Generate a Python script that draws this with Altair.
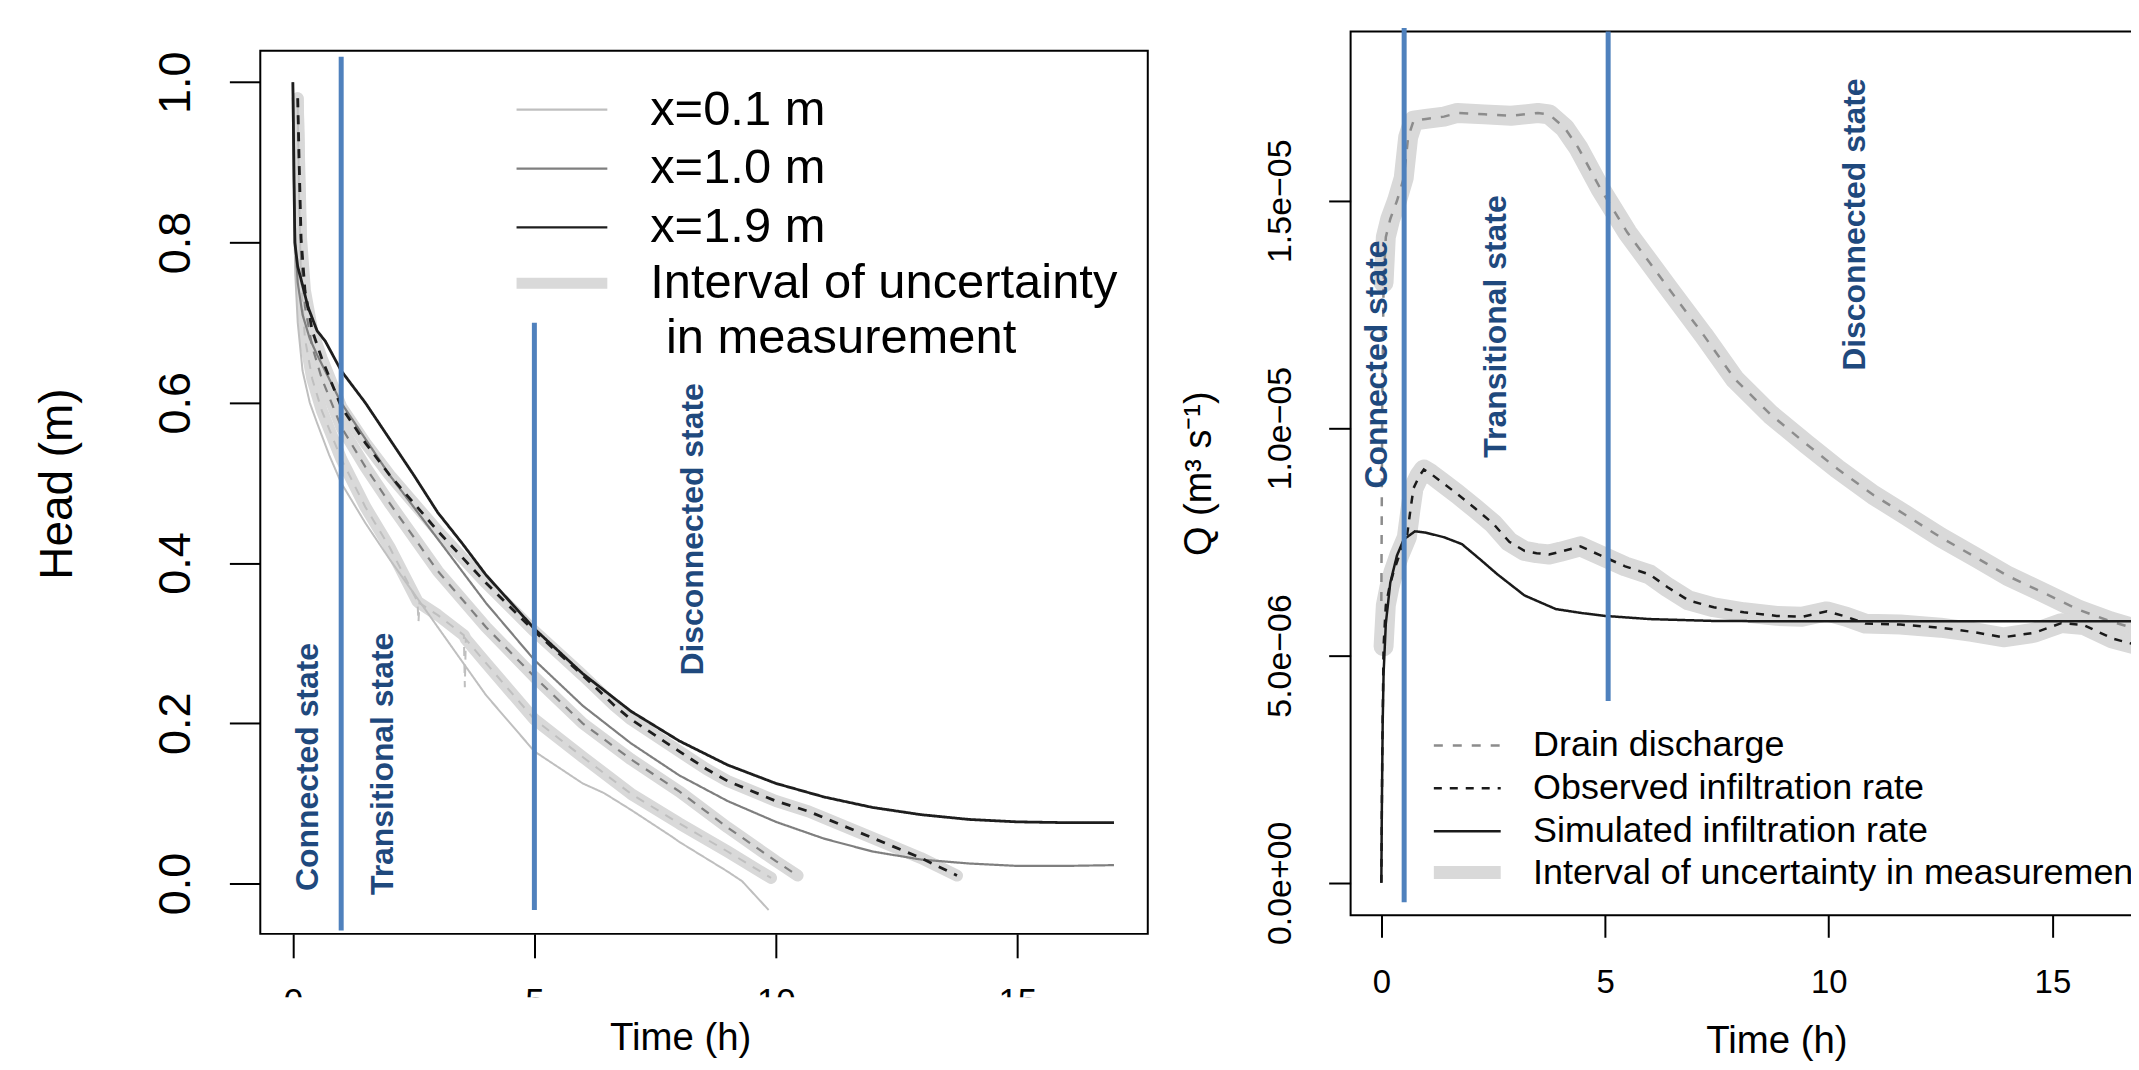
import altair as alt
import pandas as pd

FONT = "Liberation Sans"
BLUE = "#4F81BD"
LABEL_BLUE = "#1F497D"
BAND_GREY = "#D9D9D9"

# ---------------- Left panel: hydraulic head ----------------
probe_names = ["x=0.1 m", "x=1.0 m", "x=1.9 m"]
probe_colors = ["#BFBFBF", "#7F7F7F", "#1E1E1E"]
probe_line_widths = [2.0, 2.2, 2.8]
left_band_name = "Interval of uncertainty"
left_band_second_line = "in measurement"

sim01_t = [0, 0.02, 0.05, 0.1, 0.2, 0.35, 0.5, 0.75, 1, 1.5, 2, 3, 4, 5, 6, 6.44, 7, 7.86, 8, 9, 9.3, 9.85]
sim01_h = [1.0, 0.85, 0.76, 0.7, 0.64, 0.6, 0.575, 0.535, 0.5, 0.45, 0.405, 0.32, 0.235, 0.165, 0.125, 0.113, 0.092, 0.058, 0.052, 0.015, 0.003, -0.033]
sim10_t = [0, 0.02, 0.05, 0.1, 0.2, 0.35, 0.5, 0.75, 1, 1.5, 2, 3, 4, 5, 6, 7, 8, 9, 10, 11, 12, 13, 14, 15, 16, 17]
sim10_h = [1.0, 0.88, 0.8, 0.75, 0.71, 0.68, 0.66, 0.63, 0.60, 0.555, 0.51, 0.43, 0.35, 0.279, 0.222, 0.175, 0.135, 0.103, 0.077, 0.056, 0.04, 0.03, 0.025, 0.022, 0.022, 0.023]
sim19_t = [0, 0.02, 0.04, 0.1, 0.17, 0.31, 0.5, 0.67, 1.0, 1.5, 2, 2.5, 3, 3.5, 4, 5, 6, 7, 8, 9, 10, 11, 12, 13, 14, 15, 16, 17]
sim19_h = [1.0, 0.9, 0.8, 0.77, 0.754, 0.72, 0.69, 0.677, 0.64, 0.6, 0.555, 0.51, 0.463, 0.425, 0.385, 0.318, 0.262, 0.215, 0.178, 0.148, 0.125, 0.108, 0.095, 0.086, 0.08, 0.077, 0.076, 0.076]

obs01_t = [0.1, 0.13, 0.17, 0.25, 0.4, 0.6, 1, 1.5, 2, 2.58, 2.6, 2.62, 3, 3.54, 3.56, 3.58, 4, 5, 6, 7, 8, 9, 9.9]
obs01_h = [0.97, 0.85, 0.75, 0.68, 0.63, 0.59, 0.53, 0.47, 0.42, 0.352, 0.326, 0.35, 0.335, 0.31, 0.245, 0.305, 0.275, 0.205, 0.158, 0.112, 0.075, 0.04, 0.007]
obs01_spike_t = [2.6, 3.56]   # short sensor spikes, drawn thin, outside the uncertainty band
obs10_t = [0.1, 0.13, 0.17, 0.25, 0.4, 0.6, 1, 1.5, 2, 3, 4, 5, 6, 7, 8, 9, 10, 10.45]
obs10_h = [0.98, 0.88, 0.78, 0.72, 0.67, 0.63, 0.57, 0.52, 0.475, 0.39, 0.32, 0.258, 0.2, 0.155, 0.115, 0.07, 0.028, 0.01]
obs19_t = [0.1, 0.13, 0.17, 0.25, 0.4, 0.6, 1, 1.5, 2, 3, 4, 5, 6, 6.66, 7, 8, 8.56, 9, 10, 10.68, 11, 12, 13, 13.75]
obs19_h = [0.98, 0.9, 0.805, 0.74, 0.69, 0.655, 0.595, 0.55, 0.51, 0.44, 0.375, 0.315, 0.26, 0.222, 0.205, 0.165, 0.143, 0.128, 0.103, 0.09, 0.082, 0.057, 0.032, 0.01]

left_ticks_x = [0, 5, 10, 15]
left_ticks_y = [0.0, 0.2, 0.4, 0.6, 0.8, 1.0]

left_rule_t = [1.0, 5.0]
left_rule_top = [1.032, 0.70]
left_rule_bottom = [-0.0586, -0.033]

left_state_labels = ["Connected state", "Transitional state", "Disconnected state"]
left_state_t = [0.52, 2.08, 8.49]
left_state_v = [-0.0093, -0.0143, 0.2595]

# ---------------- Right panel: discharge ----------------
right_series = ["Drain discharge", "Observed infiltration rate", "Simulated infiltration rate"]
right_colors = ["#8C8C8C", "#1A1A1A", "#1A1A1A"]
right_dashes = [[9, 10], [8, 8], [1, 0]]
right_band_name = "Interval of uncertainty in measurement"

drain_t = [0, 0.02, 0.05, 0.1, 0.2, 0.35, 0.5, 0.6, 0.72, 1.0, 1.4, 1.7, 2.3, 2.9, 3.5, 3.75, 4.1, 4.4, 4.9,
           5.5, 6.4, 7.2, 7.9, 8.7, 9.5, 10.2, 11.0, 11.7, 12.5, 13.3, 14.0, 14.8, 15.6, 16.3, 17.0]
drain_q = [6.2e-6, 10.5e-6, 13.2e-6, 14.2e-6, 14.6e-6, 15.0e-6, 15.5e-6, 16.4e-6, 16.76e-6, 16.8e-6, 16.85e-6,
           16.93e-6, 16.9e-6, 16.87e-6, 16.93e-6, 16.9e-6, 16.6e-6, 16.17e-6, 15.26e-6, 14.3e-6, 13.1e-6,
           12.05e-6, 11.08e-6, 10.3e-6, 9.65e-6, 9.1e-6, 8.53e-6, 8.1e-6, 7.6e-6, 7.15e-6, 6.75e-6, 6.38e-6,
           6.0e-6, 5.75e-6, 5.55e-6]
obsq_t = [0, 0.02, 0.05, 0.1, 0.18, 0.27, 0.4, 0.57, 0.65, 0.72, 0.85, 0.95, 1.1, 1.34, 1.7, 2.1, 2.5, 2.86,
          3.2, 3.47, 3.75, 4.0, 4.45, 4.9, 5.45, 6.0, 6.4, 6.87, 7.43, 8.1, 8.84, 9.4, 9.96, 10.4, 10.82,
          11.6, 12.5, 13.2, 13.9, 14.6, 15.2, 15.7, 16.35, 17.0]
obsq_q = [0, 2.8e-6, 5.2e-6, 6.1e-6, 6.5e-6, 6.83e-6, 7.2e-6, 7.6e-6, 8.2e-6, 8.68e-6, 8.95e-6, 9.09e-6,
          9.0e-6, 8.82e-6, 8.55e-6, 8.23e-6, 7.9e-6, 7.5e-6, 7.3e-6, 7.25e-6, 7.22e-6, 7.28e-6, 7.4e-6,
          7.2e-6, 6.96e-6, 6.78e-6, 6.5e-6, 6.21e-6, 6.06e-6, 5.95e-6, 5.87e-6, 5.85e-6, 5.97e-6, 5.85e-6,
          5.7e-6, 5.68e-6, 5.61e-6, 5.52e-6, 5.4e-6, 5.5e-6, 5.71e-6, 5.67e-6, 5.37e-6, 5.2e-6]
simq_t = [0, 0.01, 0.03, 0.05, 0.1, 0.2, 0.35, 0.5, 0.75, 1.0, 1.4, 1.8, 2.2, 2.6, 3.2, 3.9, 4.5, 5.0, 6.0,
          7.4, 9.0, 11, 13, 15, 17]
simq_q = [0, 1.5e-6, 3.5e-6, 4.6e-6, 5.7e-6, 6.6e-6, 7.2e-6, 7.55e-6, 7.73e-6, 7.7e-6, 7.6e-6, 7.45e-6,
          7.12e-6, 6.78e-6, 6.32e-6, 6.02e-6, 5.93e-6, 5.87e-6, 5.8e-6, 5.76e-6, 5.75e-6, 5.75e-6, 5.75e-6,
          5.75e-6, 5.75e-6]
band_start_t = 0.05

right_ticks_x = [0, 5, 10, 15]
q_tick_values = [0, 5e-6, 1e-5, 1.5e-5]
q_tick_labels = ["0.0e+00", "5.0e\u221206", "1.0e\u221205", "1.5e\u221205"]

right_rule_t = [0.51, 5.07]
right_rule_top = [1.88e-5, 1.8724e-5]
right_rule_bottom = [-0.43e-6, 4.0e-6]

right_state_labels = ["Connected state", "Transitional state", "Disconnected state"]
right_state_t = [0.119, 2.78, 10.81]
right_state_v = [8.67e-6, 9.35e-6, 1.126e-5]

# ---------------- build tables ----------------
left_rows, left_band_rows = [], []
for name, w, st, sh, ot, oh in [
    (probe_names[0], probe_line_widths[0], sim01_t, sim01_h, obs01_t, obs01_h),
    (probe_names[1], probe_line_widths[1], sim10_t, sim10_h, obs10_t, obs10_h),
    (probe_names[2], probe_line_widths[2], sim19_t, sim19_h, obs19_t, obs19_h),
]:
    for a, b in zip(st, sh):
        left_rows.append({"t": a, "v": b, "probe": name, "w": w, "kind": "simulated", "curve": name + " sim"})
    for a, b in zip(ot, oh):
        left_rows.append({"t": a, "v": b, "probe": name, "w": w, "kind": "observed", "curve": name + " obs"})
        if not (name == probe_names[0] and a in obs01_spike_t):
            left_band_rows.append({"t": a, "v": b, "band": left_band_name, "curve": name + " band"})
left_df = pd.DataFrame(left_rows)
left_band_df = pd.DataFrame(left_band_rows)
left_rule_df = pd.DataFrame({"t": left_rule_t, "v": left_rule_top, "v2": left_rule_bottom})
left_text_df = pd.DataFrame({"t": left_state_t, "v": left_state_v, "label": left_state_labels})

right_rows, right_band_rows = [], []
for name, tt, qq in [(right_series[0], drain_t, drain_q), (right_series[1], obsq_t, obsq_q),
                     (right_series[2], simq_t, simq_q)]:
    for a, b in zip(tt, qq):
        right_rows.append({"t": a, "v": b, "series": name})
for name, tt, qq in [(right_series[0], drain_t, drain_q), (right_series[1], obsq_t, obsq_q)]:
    for a, b in zip(tt, qq):
        if a >= band_start_t:
            right_band_rows.append({"t": a, "v": b, "band": right_band_name, "curve": name + " band"})
right_df = pd.DataFrame(right_rows)
right_band_df = pd.DataFrame(right_band_rows)
right_rule_df = pd.DataFrame({"t": right_rule_t, "v": right_rule_top, "v2": right_rule_bottom})
right_text_df = pd.DataFrame({"t": right_state_t, "v": right_state_v, "label": right_state_labels})

# ---------------- left chart ----------------
LW, LH = 890, 885.5
x_left = alt.X("t:Q", scale=alt.Scale(domain=[-0.675, 17.70], nice=False, zero=False),
               axis=alt.Axis(values=left_ticks_x, format="d", tickSize=24, tickWidth=2,
                             labelFontSize=35, labelPadding=27, labelFlush=False, labelOverlap=False,
                             title="Time (h)", titleFontSize=38.5, titleX=421, titleY=86,
                             titleAlign="center", titleBaseline="top"))
y_left = alt.Y("v:Q", scale=alt.Scale(domain=[-0.0628, 1.0392], nice=False, zero=False),
               axis=alt.Axis(values=left_ticks_y, format=".1f", labelAngle=270, labelAlign="center",
                             labelBaseline="bottom", labelFontSize=45, labelPadding=31, tickSize=31,
                             tickWidth=2, labelFlush=False, labelOverlap=False,
                             title="Head (m)", titleFontSize=46, titleAngle=270, titleX=-189, titleY=434,
                             titleAlign="center", titleBaseline="alphabetic"))
legend_left = alt.Legend(
    title=None, orient="none", legendX=257, legendY=54, direction="vertical",
    symbolType="M-4,0L4,0", symbolSize=518, symbolOffset=21, labelOffset=64, symbolStrokeWidth=2.2,
    labelFontSize=49, labelFont=FONT, labelColor="black", labelLimit=2000, rowPadding=9, padding=0)
legend_left_band = alt.Legend(
    title="\u200b" + "\u00a0" * 11 + left_band_second_line, titleOrient="bottom", titleAnchor="start",
    titleFontSize=49, titleFontWeight="normal", titleFont=FONT, titleColor="black", titlePadding=5,
    titleLimit=2000, titleBaseline="top",
    orient="none", legendX=257, legendY=228, direction="vertical",
    symbolType="M-4,0L4,0", symbolSize=518, symbolOffset=21, labelOffset=64, symbolStrokeWidth=11,
    labelFontSize=49, labelFont=FONT, labelColor="black", labelLimit=2000, padding=0)

l_bands = alt.Chart(left_band_df).mark_line(strokeWidth=12, strokeJoin="round", strokeCap="round").encode(
    x=x_left, y=y_left,
    stroke=alt.Stroke("band:N", scale=alt.Scale(domain=[left_band_name], range=[BAND_GREY]), legend=legend_left_band),
    detail="curve:N")
l_lines = alt.Chart(left_df).mark_line().encode(
    x=x_left, y=y_left,
    color=alt.Color("probe:N", scale=alt.Scale(domain=probe_names, range=probe_colors), legend=legend_left),
    strokeWidth=alt.StrokeWidth("w:Q", scale=None, legend=None),
    strokeDash=alt.StrokeDash("kind:N", scale=alt.Scale(domain=["simulated", "observed"], range=[[1, 0], [9, 8]]),
                              legend=None),
    detail="curve:N")
l_rules = alt.Chart(left_rule_df).mark_rule(color=BLUE, strokeWidth=5).encode(x=x_left, y=y_left, y2="v2:Q")
l_text = alt.Chart(left_text_df).mark_text(angle=270, align="left", baseline="alphabetic", font=FONT,
                                           fontWeight="bold", fontSize=32, color=LABEL_BLUE).encode(
    x=x_left, y=y_left, text="label:N")
# white strip reproducing the cropped tick labels of the original figure
l_mask = alt.Chart(pd.DataFrame({"m": [0]})).mark_rect(color="white").encode(
    x=alt.value(-5), x2=alt.value(LW + 5), y=alt.value(949), y2=alt.value(971))

left = alt.layer(l_bands, l_lines, l_rules, l_text, l_mask).properties(width=LW, height=LH)

# empty strip that lowers the left panel relative to the right one
spacer = alt.Chart(pd.DataFrame({"m": [0]})).mark_rect(opacity=0).encode(
    x=alt.value(0), x2=alt.value(1), y=alt.value(0), y2=alt.value(1)
).properties(width=LW, height=1, view=alt.ViewBackground(stroke="transparent"))

left_col = alt.vconcat(spacer, left, spacing=16.5)

# ---------------- right chart ----------------
RW, RH = 824, 886.4
q_expr = " : ".join(f"abs(datum.value - {v}) < 1e-9 ? '{lab}'" for v, lab in zip(q_tick_values, q_tick_labels)) + " : ''"
x_right = alt.X("t:Q", scale=alt.Scale(domain=[-0.687, 17.68], nice=False, zero=False),
                axis=alt.Axis(values=right_ticks_x, format="d", tickSize=22, tickWidth=2,
                              labelFontSize=33, labelPadding=29, labelFlush=False, labelOverlap=False,
                              title="Time (h)", titleFontSize=38.5, titleX=427, titleY=108,
                              titleAlign="center", titleBaseline="top"))
y_right = alt.Y("v:Q", scale=alt.Scale(domain=[-0.715e-6, 1.8724e-5], nice=False, zero=False),
                axis=alt.Axis(values=q_tick_values, labelExpr=q_expr, labelAngle=270, labelAlign="center",
                              labelBaseline="bottom", labelFontSize=34, labelPadding=31, tickSize=22,
                              tickWidth=2, labelFlush=False, labelOverlap=False,
                              title="Q (m\u00b3 s\u207b\u00b9)", titleFontSize=38, titleAngle=270,
                              titleX=-140, titleY=443, titleAlign="center", titleBaseline="alphabetic"))
legend_right = alt.Legend(
    title=None, orient="none", legendX=85, legendY=698, direction="vertical",
    symbolType="M-4,0L4,0", symbolSize=281, symbolOffset=14, labelOffset=48, symbolStrokeWidth=2.5,
    labelFontSize=36, labelFont=FONT, labelColor="black", labelLimit=2000, rowPadding=7, padding=0)
legend_right_band = alt.Legend(
    title=None, orient="none", legendX=85, legendY=825.5, direction="vertical",
    symbolType="M-4,0L4,0", symbolSize=281, symbolOffset=14, labelOffset=48, symbolStrokeWidth=13,
    labelFontSize=36, labelFont=FONT, labelColor="black", labelLimit=2000, padding=0)

r_bands = alt.Chart(right_band_df).mark_line(strokeWidth=20, strokeJoin="round", strokeCap="round").encode(
    x=x_right, y=y_right,
    stroke=alt.Stroke("band:N", scale=alt.Scale(domain=[right_band_name], range=[BAND_GREY]), legend=legend_right_band),
    detail="curve:N")
r_lines = alt.Chart(right_df).mark_line(strokeWidth=2.5).encode(
    x=x_right, y=y_right,
    color=alt.Color("series:N", scale=alt.Scale(domain=right_series, range=right_colors), legend=legend_right),
    strokeDash=alt.StrokeDash("series:N", scale=alt.Scale(domain=right_series, range=right_dashes), legend=legend_right))
r_rules = alt.Chart(right_rule_df).mark_rule(color=BLUE, strokeWidth=5).encode(x=x_right, y=y_right, y2="v2:Q")
r_text = alt.Chart(right_text_df).mark_text(angle=270, align="left", baseline="alphabetic", font=FONT,
                                            fontWeight="bold", fontSize=32, color=LABEL_BLUE).encode(
    x=x_right, y=y_right, text="label:N")

right = alt.layer(r_bands, r_lines, r_rules, r_text).properties(width=RW, height=RH)

# the original figure is cropped on its right side: a negative right padding crops it the same way
chart = alt.hconcat(left_col, right, spacing=26.4).resolve_scale(
    color="independent", stroke="independent", strokeDash="independent"
).resolve_legend(
    color="independent", stroke="independent", strokeDash="independent"
).properties(
    padding={"left": 26, "top": 15, "right": -43, "bottom": 0}
).configure_view(
    stroke="black", strokeWidth=2
).configure_axis(
    labelFont=FONT, titleFont=FONT, labelColor="black", titleColor="black", tickColor="black",
    titleFontWeight="normal", grid=False, domain=False
).configure_title(font=FONT)

chart.save("out.html", embed_options={"renderer": "svg", "actions": False})
